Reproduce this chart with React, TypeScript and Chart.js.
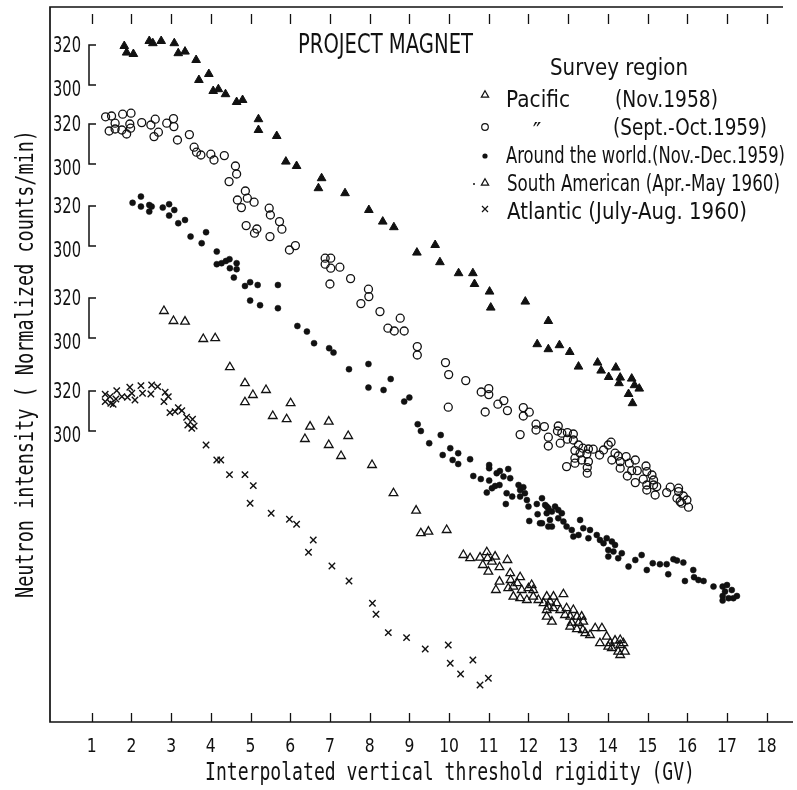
import React, { useEffect, useRef } from "react";
import { Chart, registerables } from "chart.js";

Chart.register(...registerables);

// Rigidity axis ticks (GV) and the count marks on each survey's bracket
const rigidityTicks = [1, 2, 3, 4, 5, 6, 7, 8, 9, 10, 11, 12, 13, 14, 15, 16, 17, 18];
const bracketCounts = [320, 300];

// [threshold rigidity (GV), normalized neutron counts/min]
const pacific1958: [number, number][] = [
  [1.82, 319.5], [1.88, 316.2], [2.05, 315.5], [2.45, 322], [2.54, 320.9], [2.75, 322], [3.08, 320.9],
  [3.18, 315.9], [3.35, 316.7], [3.63, 312.5], [3.7, 302.5], [3.95, 305.5], [4.06, 297], [4.19, 297.9],
  [4.37, 295.4], [4.65, 291.5], [4.8, 292.5], [5.2, 282.9], [5.2, 277.5], [5.66, 274.5], [5.89, 261.7],
  [6.16, 259.5], [6.79, 253.4], [6.71, 248.4], [7.38, 245.9], [7.98, 237.5], [8.33, 231.7], [8.61, 228.9],
  [9.19, 216.2], [9.65, 220], [9.77, 211.4], [10.24, 205.9], [10.6, 205.9], [10.64, 200.5], [11.02, 196.7],
  [11.05, 188.7], [11.92, 191.7], [12.5, 182], [12.22, 170.4], [12.5, 167.9], [12.78, 169.9], [13.04, 166.5],
  [13.26, 159.2], [13.74, 161.2], [13.83, 157.2], [14.2, 158.7], [14.02, 154], [14.31, 153.7], [14.28, 150.9],
  [14.6, 153.2], [14.67, 149.9], [14.79, 148.2], [14.52, 145.5], [14.62, 140.9],
];

const pacific1959: [number, number][] = [
  [1.35, 323.6], [1.5, 324], [1.78, 324.9], [1.99, 325.4], [1.59, 320.4], [1.44, 316.5], [1.59, 317.5],
  [1.76, 317], [1.88, 315], [1.96, 320], [1.98, 317.9], [2.26, 320.7], [2.49, 319.5], [2.6, 322.4],
  [2.57, 313.7], [2.68, 315.9], [2.89, 320.4], [3.06, 322.7], [3.07, 318.7], [3.16, 312], [3.46, 314.7],
  [3.58, 308.4], [3.64, 305.9], [3.75, 304.5], [4.0, 304.9], [4.08, 302], [4.34, 304.2], [4.62, 299],
  [4.65, 295], [4.46, 291.2], [4.87, 286.5], [4.92, 282.9], [4.67, 282], [4.77, 278.2], [5.09, 280.9],
  [5.47, 277.9], [5.5, 274.5], [5.73, 271.2], [5.79, 267.4], [4.89, 269.2], [5.16, 267.5], [5.1, 265.4],
  [5.49, 263.7], [5.98, 257], [6.13, 259.2], [6.88, 252.9], [7.02, 252.9], [6.88, 249.9], [7.02, 247.9],
  [7.25, 248.4], [7.0, 240], [7.52, 242.7], [7.97, 237.4], [7.98, 233.7], [7.78, 230.2], [8.26, 226.2],
  [8.77, 222.9], [8.46, 217.9], [8.62, 216.5], [8.87, 216.5], [9.2, 208.7], [9.2, 204.5], [9.91, 200.7],
  [9.99, 194.7], [10.42, 191.7], [10.81, 186], [11.0, 187.7], [11.0, 184.7], [9.98, 178.4], [10.91, 176],
  [11.23, 179.9], [11.38, 181.7], [11.47, 176.7], [11.87, 178.2], [11.87, 174], [12.02, 175.9], [12.19, 169.9],
  [12.19, 167], [12.4, 168.7], [11.79, 164.7], [12.5, 163.4], [12.5, 159], [12.75, 169], [12.73, 166.5],
  [12.84, 165.4], [12.98, 165.7], [13.13, 165], [12.98, 162.4], [13.13, 162], [12.8, 160.4], [13.26, 159.5],
  [13.17, 156.7], [13.37, 157.9], [13.51, 157.5], [13.63, 157.4], [13.3, 155.4], [13.47, 155], [13.17, 152.9],
  [13.34, 152], [13.17, 150.4], [13.51, 151.2], [12.96, 148.7], [13.48, 148.2], [13.48, 145.4], [13.89, 157],
  [14.01, 159.5], [14.08, 160.9], [13.79, 154.5], [14.18, 155.4], [14.1, 152], [14.26, 154], [14.31, 151.2],
  [14.46, 153.7], [14.69, 152], [14.54, 150.4], [14.31, 147.9], [14.6, 146.7], [14.74, 146.7], [14.49, 144],
  [14.96, 149], [14.98, 146.2], [15.11, 144.5], [14.89, 142.4], [15.15, 142], [14.69, 140.7], [14.98, 139.5],
  [15.23, 138.7], [15.57, 138.4], [15.78, 137.9], [15.15, 139.5], [14.98, 137], [15.19, 134.5], [15.48, 135.7],
  [15.78, 136.2], [15.74, 132.9], [15.9, 134], [15.99, 132], [15.86, 130.4], [16.03, 128.4], [15.82, 131.2],
];

const aroundWorld1959: [number, number][] = [
  [2.03, 321.6], [2.24, 324.7], [2.24, 319.7], [2.45, 320.5], [2.51, 319.7], [2.45, 317.2], [2.79, 319.2],
  [2.95, 320.9], [3.08, 318], [2.95, 315.2], [3.18, 311.4], [3.35, 313], [3.49, 304.7], [3.77, 301.4],
  [3.88, 306.9], [4.15, 297.2], [4.15, 290.9], [4.27, 291.4], [4.38, 292.5], [4.47, 293.4], [4.48, 288.9],
  [4.65, 291.4], [4.65, 288.4], [4.58, 284.2], [4.86, 280], [4.99, 281.9], [5.18, 280.5], [5.69, 280.5],
  [4.99, 272.7], [5.24, 270.4], [5.69, 268.9], [6.18, 260], [6.42, 257.2], [6.6, 251.4], [6.98, 248.9],
  [7.09, 246.7], [7.48, 238.4], [7.97, 241], [7.97, 229.2], [8.35, 228], [8.53, 233.5], [8.87, 222.2],
  [9.0, 224.2], [9.21, 210.9], [9.29, 207.5], [9.5, 201.4], [9.79, 205.5], [9.84, 195.5], [10.03, 198.9],
  [10.09, 193], [10.23, 196.4], [10.23, 191], [10.53, 193.4], [10.61, 185], [10.8, 183.5], [11.01, 190.5],
  [11.01, 188.9], [11.01, 182.7], [11.2, 186.4], [11.28, 187.5], [11.37, 184.7], [11.49, 188.5], [11.54, 183.9],
  [11.08, 178.9], [11.16, 180], [10.95, 176.7], [11.27, 180.5], [11.45, 176.4], [11.43, 171], [11.59, 174.7],
  [11.75, 180.5], [11.79, 178], [11.87, 179.4], [11.91, 176.4], [11.79, 174.7], [11.96, 173], [12.0, 169.7],
  [12.02, 162.5], [12.21, 171], [12.23, 165.9], [12.29, 161.4], [12.46, 169.7], [12.46, 166.4], [12.5, 159.7],
  [12.34, 173.9], [12.42, 170.5], [12.5, 168.9], [12.59, 167.2], [12.67, 169.7], [12.75, 168], [12.84, 166.4],
  [12.54, 163], [12.75, 163.9], [12.34, 161.4], [12.59, 159.7], [12.88, 162.2], [12.96, 159.7], [13.09, 158],
  [13.3, 163], [13.38, 158.9], [13.55, 158], [13.13, 154.7], [13.26, 155.5], [13.51, 153.9], [13.72, 155.5],
  [13.8, 153], [13.89, 151.4], [13.97, 153.9], [14.1, 152.2], [14.18, 150.5], [14.01, 148], [14.01, 144.7],
  [14.14, 147.2], [14.26, 143.9], [14.35, 146.4], [14.52, 139.7], [14.69, 143], [14.85, 145.5], [14.98, 138],
  [15.13, 141.4], [15.31, 140.9], [15.48, 140.9], [15.52, 135.9], [15.65, 143.4], [15.74, 142.7], [15.9, 141.7],
  [15.94, 132.5], [16.15, 138], [16.17, 134.4], [16.28, 133], [16.41, 132.5], [16.66, 129.7], [16.89, 129.7],
  [17.0, 130.5], [16.95, 127.2], [17.12, 128], [17.25, 125], [16.89, 125], [17.04, 123.9], [16.89, 122.7],
  [17.16, 123.9],
];

const southAmerica1960: [number, number][] = [
  [2.82, 313.5], [3.06, 308.5], [3.35, 308.2], [3.81, 299.5], [4.11, 299.9], [4.48, 285.4], [4.86, 277.4],
  [5.06, 271.5], [4.86, 267.9], [5.39, 274], [6.01, 267.4], [5.56, 261], [5.91, 259.4], [6.37, 249.5],
  [6.5, 255.7], [6.97, 258.2], [6.97, 246.5], [7.46, 251], [7.28, 241], [8.06, 236.5], [8.6, 222.4],
  [9.17, 213.7], [9.29, 202.4], [9.48, 203.2], [9.94, 204], [10.36, 191.5], [10.53, 189.9], [10.78, 190.2],
  [10.95, 192.9], [10.97, 189.9], [10.85, 186.5], [11.08, 188.2], [11.16, 190.7], [11.27, 185.4], [11.47, 189],
  [10.99, 183.2], [11.27, 178.2], [11.18, 174], [11.54, 182.4], [11.55, 179], [11.62, 175.7], [11.79, 180.4],
  [11.72, 177.4], [11.49, 174.9], [11.62, 170.7], [11.83, 174], [12.0, 174.9], [12.08, 176.5], [12.12, 174],
  [11.79, 169.9], [11.96, 169], [12.12, 170.7], [12.25, 169], [12.38, 167.4], [12.46, 170.7], [12.5, 165.7],
  [12.46, 160.7], [12.63, 170.7], [12.88, 171.9], [12.54, 168.2], [12.71, 167.4], [12.46, 164], [12.63, 164.9],
  [12.8, 164], [12.59, 158.2], [12.96, 164.9], [13.13, 164], [12.92, 161.5], [13.05, 160.7], [13.22, 160.7],
  [13.34, 160.7], [13.09, 157.7], [13.26, 157.4], [13.38, 158.2], [13.05, 155.7], [13.22, 154.4], [13.37, 154],
  [13.43, 152.4], [13.55, 151.5], [13.68, 154.9], [13.85, 154.9], [13.8, 147.4], [13.97, 150.7], [14.06, 147.4],
  [14.18, 148.7], [14.31, 149], [14.1, 144.9], [14.31, 146.5], [14.39, 147.4], [14.01, 145.7], [14.26, 143.2],
  [14.43, 143.2], [14.31, 141.5],
];

const atlantic1960: [number, number][] = [
  [1.34, 318.4], [1.34, 314.7], [1.46, 317.2], [1.48, 313.9], [1.54, 313.4], [1.63, 320.2], [1.61, 316],
  [1.76, 317.2], [1.9, 316.9], [1.96, 321.9], [2.01, 318.9], [2.09, 315.5], [2.24, 322.7], [2.28, 318.9],
  [2.51, 323], [2.49, 318.5], [2.66, 322.2], [2.85, 319.4], [2.93, 317.2], [2.82, 314.7], [2.97, 309.2],
  [3.1, 309.7], [3.18, 311.7], [3.27, 310.2], [3.39, 306.9], [3.54, 305.9], [3.42, 303], [3.52, 301.4],
  [3.58, 302.5], [3.88, 293], [4.15, 285.5], [4.25, 285.5], [4.47, 278.2], [4.86, 278.2], [5.07, 272.7],
  [4.99, 263.9], [5.52, 258.9], [5.98, 255.9], [6.16, 253.4], [6.46, 239.4], [6.58, 245.5], [7.05, 232.5],
  [7.48, 225], [8.07, 213.9], [8.16, 208.4], [8.47, 199.2], [8.93, 196.7], [9.4, 191], [9.98, 193],
  [10.03, 183.9], [10.6, 185.5], [10.29, 178.5], [10.78, 173], [10.99, 176.4],
];

const surveyNames = ["Pacific", "\u2033", "Around the world.", "South American ", "Atlantic "];
const surveyPeriods = ["(Nov.1958)", "(Sept.-Oct.1959)", "(Nov.-Dec.1959)", "(Apr.-May 1960)", "(July-Aug. 1960)"];

// Each survey is stacked on the common vertical axis by this offset (counts)
const stackOffsets = [18.5, -21, -62, -108, -154.5];

const INK = "#111111";
const SANS = "'DejaVu Sans', 'Noto Sans', sans-serif";
const MONO = "'DejaVu Sans Mono', 'Liberation Mono', monospace";

function fitText(
  ctx: CanvasRenderingContext2D,
  text: string,
  x: number,
  y: number,
  size: number,
  width: number,
  family: string,
  align: CanvasTextAlign = "left"
) {
  ctx.save();
  ctx.font = `${size}px ${family}`;
  const w = ctx.measureText(text).width || 1;
  ctx.translate(x, y);
  ctx.scale(width / w, 1);
  ctx.textAlign = align;
  ctx.textBaseline = "alphabetic";
  ctx.fillText(text, 0, 0);
  ctx.restore();
}

function squeezeText(
  ctx: CanvasRenderingContext2D,
  text: string,
  x: number,
  y: number,
  size: number,
  sx: number,
  family: string,
  align: CanvasTextAlign = "left"
) {
  ctx.save();
  ctx.font = `${size}px ${family}`;
  ctx.translate(x, y);
  ctx.scale(sx, 1);
  ctx.textAlign = align;
  ctx.textBaseline = "alphabetic";
  ctx.fillText(text, 0, 0);
  ctx.restore();
}

type MarkerKind = "openTriangle" | "openCircle" | "dot" | "cross";

function legendMarker(ctx: CanvasRenderingContext2D, kind: MarkerKind, x: number, y: number) {
  ctx.save();
  ctx.strokeStyle = INK;
  ctx.fillStyle = INK;
  ctx.lineWidth = 1.2;
  ctx.beginPath();
  if (kind === "openTriangle") {
    const r = 4.2;
    ctx.moveTo(x, y - r);
    ctx.lineTo(x + r * 0.866, y + r / 2);
    ctx.lineTo(x - r * 0.866, y + r / 2);
    ctx.closePath();
    ctx.stroke();
  } else if (kind === "openCircle") {
    ctx.arc(x, y, 3.3, 0, Math.PI * 2);
    ctx.stroke();
  } else if (kind === "dot") {
    ctx.arc(x, y, 2.6, 0, Math.PI * 2);
    ctx.fill();
  } else {
    ctx.moveTo(x - 3, y - 3);
    ctx.lineTo(x + 3, y + 3);
    ctx.moveTo(x + 3, y - 3);
    ctx.lineTo(x - 3, y + 3);
    ctx.stroke();
  }
  ctx.restore();
}

const magnetDecor = {
  id: "magnetDecor",
  afterDatasetsDraw(chart: any) {
    const { ctx, chartArea: a, scales } = chart;
    const xs = scales.x;
    const ys = scales.y;
    ctx.save();
    ctx.strokeStyle = INK;
    ctx.fillStyle = INK;

    // frame: left, top and bottom rules
    ctx.lineWidth = 1.7;
    ctx.beginPath();
    ctx.moveTo(a.left, a.top);
    ctx.lineTo(a.right, a.top);
    ctx.moveTo(a.left, a.top - 0.8);
    ctx.lineTo(a.left, a.bottom + 0.8);
    ctx.moveTo(a.left, a.bottom);
    ctx.lineTo(a.right + 10, a.bottom);
    ctx.stroke();

    // inward ticks on bottom axis, floating ticks under the top rule
    ctx.lineWidth = 1.3;
    ctx.beginPath();
    for (const t of rigidityTicks) {
      const px = Math.round(xs.getPixelForValue(t)) + 0.5;
      ctx.moveTo(px, a.bottom - 9);
      ctx.lineTo(px, a.bottom);
      ctx.moveTo(px, a.top + 7);
      ctx.lineTo(px, a.top + 17);
    }
    ctx.stroke();

    for (const t of rigidityTicks) {
      squeezeText(ctx, String(t), xs.getPixelForValue(t), a.bottom + 30, 20, 0.78, SANS, "center");
    }

    // axis titles
    fitText(ctx, "Interpolated vertical threshold rigidity (GV)", 205, a.bottom + 58, 24, 490, MONO);
    ctx.save();
    ctx.translate(33, 598);
    ctx.rotate(-Math.PI / 2);
    fitText(ctx, "Neutron intensity ( Normalized counts/min)", 0, 0, 24, 468, MONO);
    ctx.restore();

    // per-survey count brackets
    const bx = a.left + 39;
    ctx.lineWidth = 1.5;
    stackOffsets.forEach((off) => {
      const yTop = ys.getPixelForValue(bracketCounts[0] + off);
      const yBot = ys.getPixelForValue(bracketCounts[1] + off);
      ctx.beginPath();
      ctx.moveTo(bx + 7, yTop);
      ctx.lineTo(bx, yTop);
      ctx.lineTo(bx, yBot);
      ctx.lineTo(bx + 7, yBot);
      ctx.stroke();
      fitText(ctx, String(bracketCounts[0]), a.left + 31, yTop + 7, 22, 28, SANS, "right");
      fitText(ctx, String(bracketCounts[1]), a.left + 31, yBot + 11, 22, 28, SANS, "right");
    });

    // heading
    fitText(ctx, "PROJECT MAGNET", 298, 53, 27, 175, SANS);

    // legend
    fitText(ctx, "Survey region", 550, 75, 23, 138, SANS);
    const kinds: MarkerKind[] = ["openTriangle", "openCircle", "dot", "openTriangle", "cross"];
    const markerY = [95, 127, 156, 183, 209];
    const baseY = [107, 135, 163, 191, 219];
    kinds.forEach((k, i) => legendMarker(ctx, k, 485, markerY[i]));
    ctx.beginPath();
    ctx.arc(474, 184, 1, 0, Math.PI * 2);
    ctx.fill();

    fitText(ctx, surveyNames[0], 506, baseY[0], 23, 64, SANS);
    fitText(ctx, surveyPeriods[0], 615, baseY[0], 23, 103, SANS);
    squeezeText(ctx, surveyNames[1], 537, baseY[1] + 4, 23, 1, SANS, "center");
    fitText(ctx, surveyPeriods[1], 613, baseY[1], 23, 154, SANS);
    fitText(ctx, surveyNames[2] + surveyPeriods[2], 506, baseY[2], 23, 279, SANS);
    fitText(ctx, surveyNames[3] + surveyPeriods[3], 507, baseY[3], 23, 273, SANS);
    fitText(ctx, surveyNames[4] + surveyPeriods[4], 507, baseY[4], 23, 240, SANS);

    ctx.restore();
  },
};

function stacked(points: [number, number][], off: number) {
  return points.map(([x, c]) => ({ x, y: c + off }));
}

export default function App() {
  const canvasRef = useRef<HTMLCanvasElement | null>(null);

  useEffect(() => {
    const canvas = canvasRef.current;
    if (!canvas) return;
    const clear = "rgba(0,0,0,0)";
    const chart = new Chart(canvas, {
      type: "scatter",
      data: {
        datasets: [
          {
            label: "Pacific (Nov.1958)",
            data: stacked(pacific1958, stackOffsets[0]),
            pointStyle: "triangle",
            pointRadius: 5,
            borderWidth: 1,
            borderColor: INK,
            backgroundColor: INK,
          },
          {
            label: "Pacific (Sept.-Oct.1959)",
            data: stacked(pacific1959, stackOffsets[1]),
            pointStyle: "circle",
            pointRadius: 4,
            borderWidth: 1.3,
            borderColor: INK,
            backgroundColor: clear,
          },
          {
            label: "Around the world (Nov.-Dec.1959)",
            data: stacked(aroundWorld1959, stackOffsets[2]),
            pointStyle: "circle",
            pointRadius: 3,
            borderWidth: 0.5,
            borderColor: INK,
            backgroundColor: INK,
          },
          {
            label: "South American (Apr.-May 1960)",
            data: stacked(southAmerica1960, stackOffsets[3]),
            pointStyle: "triangle",
            pointRadius: 5,
            borderWidth: 1.3,
            borderColor: INK,
            backgroundColor: clear,
          },
          {
            label: "Atlantic (July-Aug. 1960)",
            data: stacked(atlantic1960, stackOffsets[4]),
            pointStyle: "crossRot",
            pointRadius: 4.5,
            borderWidth: 1.4,
            borderColor: INK,
            backgroundColor: INK,
          },
        ],
      },
      options: {
        responsive: false,
        animation: false,
        events: [],
        layout: { padding: { left: 50, top: 7, right: 14, bottom: 68 } },
        scales: {
          x: { type: "linear", min: -0.05, max: 18.41, display: false },
          y: { type: "linear", min: 0, max: 357.5, display: false },
        },
        plugins: {
          legend: { display: false },
          tooltip: { enabled: false },
          title: { display: false },
        },
      },
      plugins: [magnetDecor],
    });
    return () => chart.destroy();
  }, []);

  return (
    <div style={{ position: "absolute", left: 0, top: 0, width: 797, height: 790, background: "#fff" }}>
      <canvas ref={canvasRef} width={797} height={790} style={{ display: "block" }} />
    </div>
  );
}
